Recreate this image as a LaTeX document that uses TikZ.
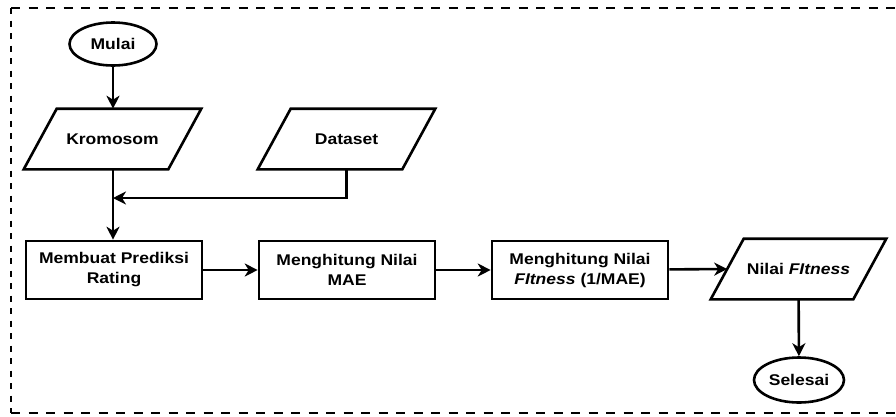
\documentclass[tikz,border=0pt]{standalone}
\usepackage{fontspec}
\setmainfont[FakeStretch=1.13]{Liberation Sans}
\usetikzlibrary{shapes.geometric,arrows.meta}
\begin{document}
\begin{tikzpicture}[x=1pt,y=-1pt,
  every node/.style={font=\fontsize{15.5}{20}\selectfont\bfseries, align=center, inner sep=0pt, line width=2.6pt},
  proc/.style={draw, minimum width=176pt, minimum height=58pt},
  io/.style={minimum width=175pt, minimum height=58pt},
  ioline/.style={line width=2.6pt, line join=miter},
  term/.style={draw, ellipse, minimum width=87pt, minimum height=43pt},
  arr/.style={line width=2.6pt, -{Stealth[length=13pt,width=13pt,inset=4pt]}},
  border/.style={line width=2.4pt}
]
\useasboundingbox (0,0) rectangle (896,416);
% dashed frame (right side lies outside the picture)
\draw[border, dash pattern=on 9pt off 8.5pt] (11,8) -- (896,8);
\draw[border, dash pattern=on 6pt off 6.5pt] (11,8) -- (11,413);
\draw[border, dash pattern=on 9pt off 8.5pt] (11,413) -- (896,413);

\node[term] (mulai) at (113,44) {Mulai};
\node[io] (krom) at (112.5,139) {Kromosom};
\node[io] (data) at (346.5,139) {Dataset};
\node[proc] (pred) at (114,270) {Membuat Prediksi\\Rating};
\node[proc] (mae) at (347,270) {Menghitung Nilai\\MAE};
\node[proc] (fit) at (580,270) {Menghitung Nilai\\\textit{FItness} (1/MAE)};
\node[io, minimum width=173pt] (nil) at (798.5,269) {Nilai \textit{FItness}};
\node[term, minimum width=90pt, minimum height=45pt] (sel) at (799,380) {Selesai};

% parallelogram outlines
\foreach \n in {krom,data,nil}
  \draw[ioline] ([xshift=33pt]\n.north west) -- (\n.north east) -- ([xshift=-33pt]\n.south east) -- (\n.south west) -- cycle;

\coordinate (join) at (113,198);
\coordinate (nilin) at ([xshift=16.5pt]nil.west);
\draw[arr] (mulai) -- (krom.north -| mulai);
\draw[arr] (krom.south -| join) -- (pred.north -| join);
\draw[arr] (data.south) |- (join);
\draw[arr] (pred) -- (mae);
\draw[arr] (mae) -- (fit);
\draw[arr] (fit) -- (nilin);
\draw[arr] (nil) -- (sel);
\end{tikzpicture}
\end{document}
